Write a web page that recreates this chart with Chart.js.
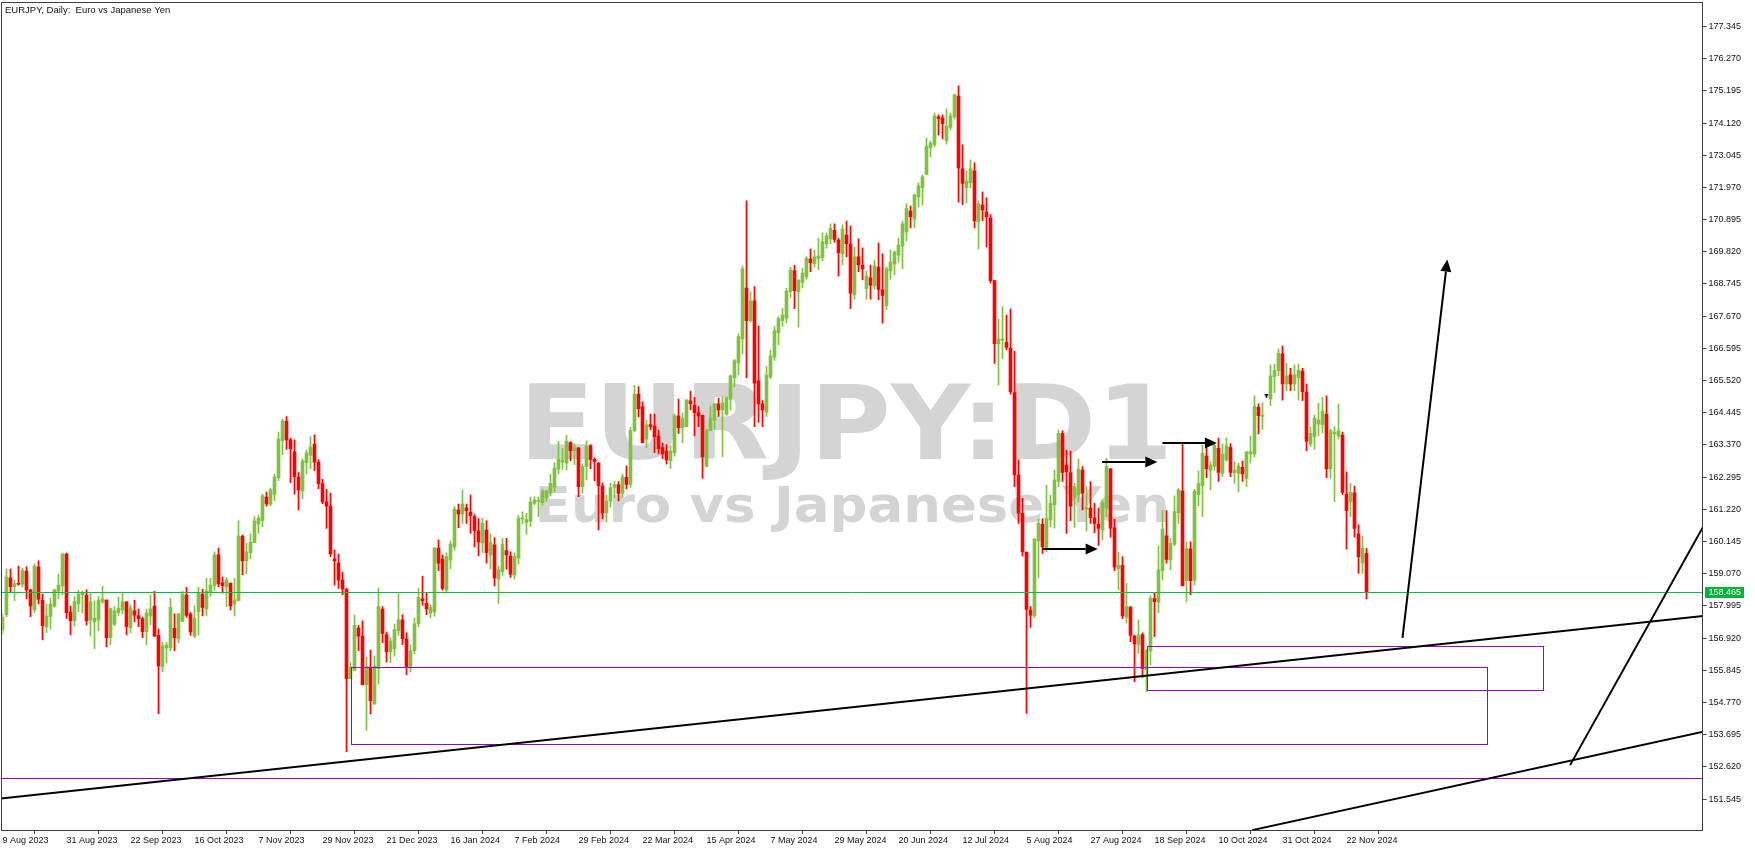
<!DOCTYPE html>
<html><head><meta charset="utf-8">
<script src="https://cdn.jsdelivr.net/npm/chart.js@4.4.1/dist/chart.umd.min.js"></script>
<style>html,body{margin:0;padding:0;background:#fff;overflow:hidden}#wrap{width:1755px;height:851px}</style>
</head><body><div id="wrap"><canvas id="c" width="1755" height="851"></canvas></div>
<script>
// ---- data (EURJPY daily, bar 0 = 9 Aug 2023) ----
const opens=[
157.19,157.70,158.93,158.64,158.75,158.72,159.16,158.53,157.86,159.30,
158.19,157.30,157.64,157.99,158.49,158.66,159.73,157.79,157.50,158.06,
158.37,158.36,157.53,157.46,157.53,158.13,158.19,156.94,157.39,157.77,
157.86,158.13,157.27,157.83,157.67,157.57,157.14,157.66,157.99,157.01,
155.97,156.59,156.59,157.25,156.90,157.48,158.36,157.73,156.99,157.80,
158.39,157.90,158.44,158.68,159.70,158.77,158.64,158.75,158.06,158.17,
160.33,159.51,159.77,160.11,160.73,160.84,161.63,161.39,161.72,162.27,
163.51,164.17,163.54,163.14,162.30,161.84,162.78,163.02,163.40,162.80,
162.08,161.47,161.33,159.57,159.43,158.86,158.56,155.57,155.84,157.26,
156.99,155.37,155.95,154.72,155.90,157.89,157.04,156.46,156.57,157.17,
157.53,156.90,155.95,156.50,157.40,158.23,158.08,157.75,157.80,159.93,
159.56,158.53,159.53,159.97,161.20,161.06,161.27,161.13,160.98,160.50,
160.11,160.53,159.70,160.04,158.90,159.14,159.84,159.66,159.04,159.60,
160.90,160.78,160.83,161.42,161.48,161.44,161.62,161.76,161.96,162.56,
162.80,162.76,163.45,163.17,163.27,161.98,162.65,163.35,162.89,162.76,
162.00,161.10,161.50,161.95,162.05,161.75,162.29,162.05,163.85,165.07,
164.64,163.56,164.05,164.00,163.67,163.28,163.17,162.85,163.11,164.34,
163.95,163.98,164.84,164.70,164.45,164.36,162.65,163.85,164.20,164.74,
164.54,164.40,164.89,165.62,166.12,166.91,168.61,167.52,168.18,165.51,
164.74,164.47,165.65,166.30,167.12,167.52,167.60,168.49,169.19,168.49,
168.80,168.98,169.58,169.42,169.60,169.62,170.08,170.25,170.54,170.21,
169.75,170.38,170.08,168.39,169.65,169.38,168.59,168.95,168.68,169.31,
168.55,168.02,169.18,169.41,169.71,170.01,170.48,171.18,170.92,171.65,
171.96,172.41,173.30,173.39,174.33,174.29,173.53,173.97,174.32,175.02,
172.59,171.96,172.13,172.52,170.83,171.38,171.15,170.95,168.86,166.75,
166.87,166.80,166.60,165.12,162.37,161.09,159.79,157.86,157.67,160.17,
160.72,159.95,160.87,161.37,162.15,163.76,162.70,162.45,161.62,161.70,
162.53,161.22,161.26,160.94,160.72,160.53,161.26,162.57,160.61,159.24,
159.35,157.62,157.96,156.99,156.71,157.04,155.86,156.49,158.24,158.12,
159.17,160.34,159.53,160.06,161.11,161.83,158.84,159.90,158.86,161.71,
162.01,163.00,162.53,162.65,163.26,162.42,162.87,163.29,162.45,162.42,
162.62,162.25,163.07,163.07,164.63,164.32,165.03,164.91,165.65,165.85,
166.41,165.41,165.71,165.41,165.62,165.84,165.14,163.40,163.65,164.07,
164.05,164.40,162.58,163.74,163.67,163.70,161.73,161.47,161.77,160.40,
159.44,159.75];
const highs=[
157.75,159.23,159.23,158.86,159.33,159.26,159.30,158.55,159.40,159.50,
158.39,158.06,158.26,158.56,159.06,159.76,159.76,157.99,158.31,158.52,
158.49,158.53,158.45,158.17,158.31,158.66,158.20,157.92,157.97,158.28,
158.46,158.14,158.03,158.19,157.89,157.62,157.89,158.36,158.48,157.22,
156.78,156.78,158.25,157.73,157.74,158.48,158.62,157.77,158.00,158.62,
158.55,158.92,158.92,159.80,159.93,158.96,158.94,158.77,158.91,160.84,
160.36,160.09,160.40,160.98,161.03,161.73,161.80,161.93,162.40,163.80,
164.23,164.32,163.60,163.54,162.45,162.91,163.20,163.65,163.71,162.88,
162.22,161.89,161.76,159.86,159.73,159.13,158.58,156.10,157.69,157.35,
157.50,156.28,156.52,156.32,158.60,157.97,157.12,156.93,157.39,158.40,
157.70,157.10,156.70,157.60,158.58,158.99,158.44,158.03,159.95,160.20,
159.70,159.77,160.16,161.31,161.40,161.87,161.40,161.70,161.05,160.91,
160.92,160.84,160.40,160.28,159.33,160.25,160.25,159.80,159.77,161.01,
161.14,161.09,161.63,161.64,161.64,161.89,161.87,162.39,162.77,163.49,
163.25,163.69,163.48,163.40,163.29,162.74,163.51,163.38,162.94,162.79,
162.10,161.70,162.10,162.15,162.15,162.40,162.67,163.96,165.35,165.32,
164.81,164.20,164.40,164.40,163.87,163.43,163.38,163.34,164.40,164.90,
164.43,164.89,165.17,164.96,164.65,164.37,163.92,164.67,164.76,164.94,
164.98,164.98,165.71,166.23,167.08,169.35,171.52,168.48,168.66,167.34,
164.85,165.99,166.54,167.32,167.65,167.93,168.60,169.30,169.37,168.90,
169.27,169.66,169.91,169.87,170.27,170.45,170.45,170.75,170.75,170.27,
170.72,170.85,170.68,169.98,170.25,169.95,169.18,169.38,169.55,170.11,
169.75,169.31,169.88,169.85,170.28,170.85,171.42,171.35,171.75,172.12,
172.39,173.62,173.52,174.45,174.39,174.39,174.59,174.45,175.09,175.36,
173.39,172.52,172.89,172.79,171.52,171.82,171.62,171.06,168.87,167.57,
167.99,167.71,167.91,166.50,162.87,161.59,159.79,157.97,160.25,160.89,
160.90,162.02,161.70,162.53,163.87,163.84,163.20,163.17,162.09,162.90,
162.65,161.98,162.15,161.42,161.26,161.53,162.92,162.58,160.89,159.79,
159.64,158.75,157.97,157.01,157.53,157.10,156.53,158.33,158.42,160.00,
161.18,161.18,160.25,161.67,161.91,163.42,160.12,160.14,161.89,162.51,
163.37,163.37,162.81,163.40,163.60,163.40,163.60,163.42,162.81,162.76,
162.83,163.16,163.67,165.01,164.74,164.78,165.05,166.04,166.07,166.57,
166.67,166.10,165.93,166.04,166.07,165.93,165.41,163.98,164.37,164.76,
164.96,165.01,163.90,163.98,164.74,163.80,162.47,162.09,162.00,160.70,
160.33,159.92];
const lows=[
157.05,157.64,158.47,158.17,158.69,158.62,158.23,157.64,157.77,158.06,
156.86,157.10,157.22,157.95,158.23,158.36,157.58,157.03,157.33,157.80,
157.75,157.36,156.99,156.57,157.17,158.08,156.63,156.70,157.33,157.68,
157.73,157.03,157.10,157.46,157.30,156.94,156.69,157.36,156.98,154.40,
155.80,156.10,156.50,156.50,156.77,157.47,157.61,157.01,156.94,157.03,
157.66,157.66,158.31,158.52,158.64,158.42,157.97,157.86,157.66,158.16,
159.03,159.07,159.57,160.10,160.42,160.64,161.33,161.34,161.51,162.18,
163.05,163.22,162.11,161.73,161.20,161.58,162.40,162.58,162.51,161.91,
161.41,160.58,159.64,158.69,158.58,158.37,153.13,155.56,155.83,156.50,
155.36,153.85,154.39,154.71,155.39,156.77,156.12,156.10,156.32,157.01,
156.70,155.70,155.80,156.40,157.30,158.02,157.70,157.60,157.65,159.17,
158.52,158.47,159.23,159.86,160.61,160.75,160.75,160.42,159.97,159.67,
159.77,159.42,159.22,158.66,158.08,159.02,159.22,158.95,158.90,159.40,
160.74,160.38,160.64,161.37,160.98,161.36,161.48,161.67,161.80,162.40,
162.55,162.54,162.85,162.71,161.64,161.76,162.20,162.58,162.18,160.53,
160.90,160.80,161.30,161.60,161.50,161.60,161.90,161.95,163.81,164.31,
163.44,163.28,163.87,163.11,163.07,162.91,162.73,162.58,163.00,163.76,
163.45,163.97,164.54,163.67,163.98,162.25,162.64,163.84,163.89,164.32,
162.98,164.36,164.54,165.32,165.71,166.41,165.62,167.47,163.98,164.12,
163.98,164.32,165.58,166.19,166.70,167.34,167.45,168.30,167.92,167.30,
168.62,168.91,169.16,169.31,169.22,169.52,169.94,170.09,170.14,169.01,
169.38,169.65,167.92,168.24,169.16,168.89,168.24,168.24,168.58,168.22,
167.44,167.89,168.91,169.05,169.47,169.25,170.18,170.62,170.62,171.32,
171.38,172.39,172.99,173.32,173.72,173.59,173.41,173.89,174.25,171.48,
171.39,171.45,171.95,170.62,169.91,170.86,169.98,168.78,166.09,165.37,
166.25,166.54,165.07,161.98,160.75,159.66,154.41,157.28,157.60,158.95,
159.75,159.80,160.64,160.59,161.98,162.15,160.42,160.84,160.62,161.46,
161.20,160.50,160.75,160.44,160.02,160.20,160.98,160.29,159.17,158.53,
157.57,157.42,156.80,155.47,156.41,155.61,155.13,156.03,156.97,157.77,
158.86,159.42,159.20,160.01,160.75,158.66,158.12,158.36,158.70,161.34,
160.98,162.28,161.87,162.53,162.15,162.31,162.83,162.31,162.09,161.81,
162.15,161.98,162.76,162.96,163.74,163.89,164.96,164.68,165.12,165.68,
164.87,165.18,165.18,165.18,164.87,164.85,163.18,163.31,163.22,163.67,
163.78,162.28,162.25,161.48,163.56,161.71,159.89,160.98,160.29,159.08,
159.08,158.22];
const closes=[
157.62,158.96,158.64,158.73,158.72,159.18,158.53,158.00,159.33,158.22,
157.34,157.66,158.06,158.53,158.69,159.73,157.77,157.50,158.14,158.39,
158.42,157.50,158.13,157.59,158.19,158.23,156.94,157.91,157.83,157.91,
158.13,157.30,157.93,157.69,157.57,157.14,157.76,157.89,156.99,155.99,
156.66,156.69,157.95,156.94,157.73,158.39,157.68,157.13,157.59,158.45,
157.95,158.49,158.68,159.70,158.73,158.67,158.86,158.00,158.19,160.33,
159.50,159.80,160.13,160.83,160.93,161.67,161.40,161.87,162.30,163.57,
164.18,163.54,163.25,162.31,161.87,162.84,163.11,163.30,162.80,162.08,
161.47,161.33,159.73,159.50,158.86,158.56,155.57,155.95,157.35,156.99,
155.37,155.97,154.83,155.99,157.97,157.08,156.46,156.82,157.21,157.53,
156.90,155.95,156.50,157.40,158.28,158.17,157.90,157.96,159.93,159.42,
158.58,159.64,160.06,161.23,161.07,161.40,161.18,161.01,160.51,160.13,
160.75,159.77,160.11,158.93,159.20,160.06,159.70,159.06,159.64,160.93,
160.93,160.88,161.47,161.53,161.50,161.83,161.84,162.09,162.59,162.89,
162.87,163.49,163.18,163.29,161.98,162.65,163.34,162.89,162.81,162.00,
161.10,161.50,161.95,162.05,161.75,162.31,162.05,163.85,165.07,164.58,
163.45,164.04,163.98,163.65,163.25,163.07,162.87,163.17,164.34,163.95,
164.27,164.87,164.75,164.45,164.34,162.98,163.87,164.27,164.74,164.54,
164.78,164.95,165.68,166.19,166.99,169.25,167.52,168.18,165.43,164.74,
164.54,165.70,166.34,167.19,167.59,167.71,168.51,169.21,168.52,168.87,
169.11,169.60,169.46,169.65,169.68,170.15,170.35,170.60,170.23,169.79,
170.58,170.09,168.44,169.65,169.38,169.25,169.01,168.71,169.35,168.56,
168.36,169.25,169.48,169.81,170.05,170.75,171.27,170.99,171.72,172.02,
172.32,173.35,173.45,174.35,174.27,174.10,174.02,174.35,175.06,172.62,
172.10,172.18,172.59,170.86,171.42,171.22,170.99,168.86,166.75,166.91,
166.91,166.63,165.15,162.37,161.09,159.81,157.88,157.69,160.23,160.75,
159.97,160.91,161.42,162.20,163.76,162.45,162.48,161.33,161.98,162.56,
161.76,161.28,160.94,160.75,160.58,161.45,162.65,160.59,159.29,159.35,
157.66,157.97,157.01,156.73,157.01,155.90,156.52,158.25,158.14,159.20,
160.56,159.55,160.09,161.15,161.87,158.67,159.90,158.84,161.82,162.09,
163.09,162.58,162.70,163.36,162.45,163.07,163.34,162.45,162.53,162.67,
162.40,163.14,163.14,164.67,164.35,164.37,165.03,165.67,165.85,166.43,
165.41,165.67,165.41,165.71,165.87,165.15,163.50,163.76,164.27,164.20,
164.50,162.58,163.85,163.80,163.84,161.79,161.18,161.79,160.58,159.64,
159.92,158.465];

// x axis: one date label every 16 bars
const tickLabels=['9 Aug 2023','31 Aug 2023','22 Sep 2023','16 Oct 2023','7 Nov 2023','29 Nov 2023','21 Dec 2023','16 Jan 2024','7 Feb 2024','29 Feb 2024','22 Mar 2024','15 Apr 2024','7 May 2024','29 May 2024','20 Jun 2024','12 Jul 2024','5 Aug 2024','27 Aug 2024','18 Sep 2024','10 Oct 2024','31 Oct 2024','22 Nov 2024'];
const labelEvery=16;
const totalSlots=426; // bars + empty future space
// y axis
const yTicks=[151.545,152.620,153.695,154.770,155.845,156.920,157.995,159.070,160.145,161.220,162.295,163.370,164.445,165.520,166.595,167.670,168.745,169.820,170.895,171.970,173.045,174.120,175.195,176.270,177.345];
const yMin=150.514, yMax=178.161;

// drawn objects (bar index, price)
const currentPrice=158.465;
const supportLevel=152.25;
const zones=[[87,371,153.39,155.96],[286,385,155.19,156.66]];
const trendLines=[[-2,151.54,425,157.66],[312.4,150.51,425,153.79],[391.9,152.68,425,160.60]];
const arrows=[[350,156.93,361.2,169.56],[260,159.90,273.8,159.90],[274.9,162.80,288.7,162.80],[290,163.44,303.6,163.44]];

const chartTitle='EURJPY, Daily:  Euro vs Japanese Yen';
const watermark1='EURJPY:D1';
const watermark2='Euro vs Japanese Yen';

// ---- styles ----
const UP='#80c141', DOWN='#ff0000', DOJI='#000000';
const colors=opens.map((o,i)=>closes[i]>o?UP:(closes[i]<o?DOWN:DOJI));
const categories=Array.from({length:totalSlots},(_,i)=>i);
const wickData=lows.map((l,i)=>[l,highs[i]]);
const bodyData=opens.map((o,i)=>[Math.min(o,closes[i]),Math.max(o,closes[i])]);
const AXIS_FONT={family:'"Liberation Sans", Arial, sans-serif',size:9};

function stretchedText(ctx,text,font,left,baseline,inkWidth){
  ctx.font=font;
  const m=ctx.measureText(text);
  const w=m.actualBoundingBoxLeft+m.actualBoundingBoxRight;
  const sx=inkWidth/w;
  ctx.save();ctx.translate(left,baseline);ctx.scale(sx,1);
  ctx.textAlign='left';ctx.textBaseline='alphabetic';
  ctx.fillText(text,m.actualBoundingBoxLeft,0);
  ctx.restore();
}

const decor={
  id:'decor',
  beforeDatasetsDraw(chart){
    const ctx=chart.ctx,ca=chart.chartArea;
    ctx.save();
    ctx.beginPath();ctx.rect(ca.left,ca.top,ca.right-ca.left,ca.bottom-ca.top);ctx.clip();
    ctx.fillStyle='#d4d4d4';
    stretchedText(ctx,watermark1,'bold 103px "DejaVu Sans"',529,458.5,637);
    stretchedText(ctx,watermark2,'bold 50px "DejaVu Sans"',539,521.5,627);
    ctx.restore();
  },
  afterDatasetsDraw(chart){
    const ctx=chart.ctx,ca=chart.chartArea,xs=chart.scales.x,ys=chart.scales.y;
    const X=v=>xs.getPixelForValue(v), Y=v=>ys.getPixelForValue(v);
    ctx.save();
    ctx.beginPath();ctx.rect(ca.left-1,ca.top,ca.right-ca.left+1,ca.bottom-ca.top);ctx.clip();
    // horizontal levels
    ctx.lineWidth=1;
    const hl=(p,c)=>{const y=Math.round(Y(p))+0.5;ctx.strokeStyle=c;ctx.beginPath();ctx.moveTo(0,y);ctx.lineTo(ca.right,y);ctx.stroke();};
    hl(currentPrice,'#00c040');
    hl(supportLevel,'#9400d3');
    // zones
    ctx.strokeStyle='#9400d3';
    zones.forEach(z=>{
      const x1=Math.round(X(z[0]))+0.5,x2=Math.round(X(z[1]))+0.5,y1=Math.round(Y(z[3]))+0.5,y2=Math.round(Y(z[2]))+0.5;
      ctx.strokeRect(x1,y1,x2-x1,y2-y1);
    });
    // trend lines (extended to the right only)
    ctx.strokeStyle='#000';ctx.lineWidth=2;
    trendLines.forEach(t=>{
      const x1=X(t[0]),y1=Y(t[1]),x2=X(t[2]),y2=Y(t[3]);
      const dx=x2-x1,dy=y2-y1;
      ctx.beginPath();ctx.moveTo(x1,y1);ctx.lineTo(x2+dx*0.2,y2+dy*0.2);ctx.stroke();
    });
    // arrows
    ctx.fillStyle='#000';
    arrows.forEach(a=>{
      const x1=X(a[0]),y1=Y(a[1]),x2=X(a[2]),y2=Y(a[3]);
      const len=Math.hypot(x2-x1,y2-y1),ux=(x2-x1)/len,uy=(y2-y1)/len;
      const hl=12,hw=5.5;
      const bx=x2-ux*hl,by=y2-uy*hl;
      ctx.beginPath();ctx.moveTo(x1,y1);ctx.lineTo(bx,by);ctx.stroke();
      ctx.beginPath();ctx.moveTo(x2,y2);ctx.lineTo(bx-uy*hw,by+ux*hw);ctx.lineTo(bx+uy*hw,by-ux*hw);ctx.closePath();ctx.fill();
    });
    ctx.restore();
  },
  afterDraw(chart){
    const ctx=chart.ctx,ca=chart.chartArea,ys=chart.scales.y;
    ctx.save();
    // frame
    ctx.strokeStyle='#3c4043';ctx.lineWidth=1;
    const l=Math.floor(ca.left)-0.5,r=Math.floor(ca.right)+0.5,t=Math.floor(ca.top)+0.5,b=Math.floor(ca.bottom)+0.5;
    ctx.strokeRect(l,t,r-l,b-t);
    // current price tag
    const py=Math.round(ys.getPixelForValue(currentPrice));
    ctx.fillStyle='#00b33c';
    ctx.fillRect(r+2.5,py-5,39,11);
    ctx.fillStyle='#fff';ctx.font='9px "Liberation Sans", Arial, sans-serif';ctx.textBaseline='middle';ctx.textAlign='left';
    ctx.fillText(currentPrice.toFixed(3),r+6,py+0.5);
    // title
    ctx.fillStyle='#111';ctx.font='9.5px "Liberation Sans", Arial, sans-serif';ctx.textBaseline='alphabetic';
    ctx.fillText(chartTitle,5,13);
    ctx.restore();
  }
};

new Chart(document.getElementById('c'),{
  type:'bar',
  data:{labels:categories,datasets:[
    {label:'body',data:bodyData,backgroundColor:colors,barThickness:3,grouped:false,minBarLength:1,order:0,borderWidth:0},
    {label:'wick',data:wickData,backgroundColor:colors,barThickness:1,grouped:false,order:1,borderWidth:0}
  ]},
  options:{
    responsive:false,animation:false,devicePixelRatio:1,
    layout:{padding:{left:2.5,top:2,right:0,bottom:0}},
    plugins:{legend:{display:false},tooltip:{enabled:false}},
    events:[],
    scales:{
      x:{type:'category',offset:false,
        grid:{display:true,drawOnChartArea:false,drawTicks:true,tickLength:4,color:'#3c4043',lineWidth:1},
        border:{display:false},
        ticks:{autoSkip:false,maxRotation:0,minRotation:0,align:'start',padding:1,color:'#111',font:AXIS_FONT,
          callback:(v,i)=>(i%labelEvery===0&&tickLabels[i/labelEvery])?tickLabels[i/labelEvery]:null},
        afterFit:s=>{s.height=21;s.paddingLeft=0;s.paddingRight=0;}
      },
      y:{position:'right',min:yMin,max:yMax,
        afterBuildTicks:s=>{s.ticks=yTicks.map(v=>({value:v}));},
        grid:{drawOnChartArea:false,drawTicks:true,tickLength:4,color:'#3c4043'},
        border:{display:false},
        ticks:{padding:2,color:'#111',font:AXIS_FONT,callback:v=>Number(v).toFixed(3)},
        afterFit:s=>{s.width=52.5;s.paddingTop=0;s.paddingBottom=0;}
      }
    }
  },
  plugins:[decor]
});
</script>
</body></html>
